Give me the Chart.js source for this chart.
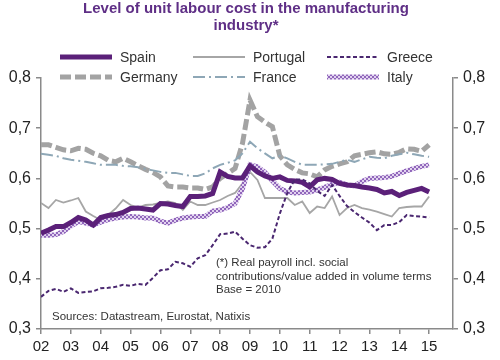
<!DOCTYPE html>
<html>
<head>
<meta charset="utf-8">
<script src="https://cdn.jsdelivr.net/npm/chart.js@4.4.1/dist/chart.umd.min.js"></script>
<style>
  html, body { margin: 0; padding: 0; background: #fff; }
  #wrap { width: 500px; height: 360px; }
</style>
</head>
<body>
<div id="wrap"><canvas id="myChart" width="500" height="360"></canvas></div>
<script>
// quarterly observations, 2002Q1 .. 2015Q1
const quarters = [
  2002, 2002.25, 2002.5, 2002.75, 2003, 2003.25, 2003.5, 2003.75,
  2004, 2004.25, 2004.5, 2004.75, 2005, 2005.25, 2005.5, 2005.75,
  2006, 2006.25, 2006.5, 2006.75, 2007, 2007.25, 2007.5, 2007.75,
  2008, 2008.25, 2008.5, 2008.75, 2009, 2009.25, 2009.5, 2009.75,
  2010, 2010.25, 2010.5, 2010.75, 2011, 2011.25, 2011.5, 2011.75,
  2012, 2012.25, 2012.5, 2012.75, 2013, 2013.25, 2013.5, 2013.75,
  2014, 2014.25, 2014.5, 2014.75, 2015
];

const spain = [
  0.491, 0.497, 0.504, 0.504, 0.512, 0.522, 0.517, 0.507,
  0.522, 0.526, 0.528, 0.532, 0.540, 0.541, 0.539, 0.537,
  0.550, 0.549, 0.546, 0.544, 0.564, 0.564, 0.565, 0.570,
  0.613, 0.604, 0.601, 0.601, 0.625, 0.613, 0.605, 0.600,
  0.603, 0.596, 0.595, 0.592, 0.583, 0.597, 0.600, 0.598,
  0.590, 0.587, 0.586, 0.583, 0.581, 0.578, 0.571, 0.574,
  0.566, 0.572, 0.576, 0.580, 0.573
];

const portugal = [
  0.551, 0.541, 0.557, 0.552, 0.556, 0.561, 0.534, 0.525,
  0.517, 0.527, 0.540, 0.557, 0.547, 0.542, 0.547, 0.548,
  0.551, 0.554, 0.551, 0.537, 0.554, 0.547, 0.547, 0.552,
  0.557, 0.565, 0.571, 0.590, 0.613, 0.597, 0.561, 0.561,
  0.561, 0.561, 0.547, 0.554, 0.531, 0.544, 0.541, 0.564,
  0.527, 0.541, 0.547, 0.541, 0.538, 0.534, 0.529, 0.524,
  0.541, 0.543, 0.544, 0.544, 0.564
];

const greece = [
  0.364, 0.376, 0.380, 0.374, 0.381, 0.372, 0.374, 0.375,
  0.381, 0.382, 0.384, 0.388, 0.386, 0.390, 0.388, 0.402,
  0.417, 0.419, 0.434, 0.431, 0.424, 0.441, 0.447, 0.467,
  0.489, 0.490, 0.494, 0.480, 0.467, 0.462, 0.463, 0.480,
  0.530, 0.571, 0.598, 0.598, 0.590, 0.575, 0.565, 0.587,
  0.565, 0.545, 0.533, 0.522, 0.512, 0.497, 0.507, 0.507,
  0.513, 0.527, 0.525, 0.524, 0.522
];

const germany = [
  0.667, 0.667, 0.662, 0.657, 0.655, 0.660, 0.658, 0.650,
  0.645, 0.636, 0.633, 0.640, 0.633, 0.625, 0.618, 0.612,
  0.603, 0.585, 0.583, 0.583, 0.581, 0.581, 0.578, 0.583,
  0.600, 0.610, 0.620, 0.670, 0.756, 0.723, 0.712, 0.703,
  0.645, 0.627, 0.618, 0.611, 0.609, 0.603, 0.617, 0.624,
  0.629, 0.633, 0.645, 0.648, 0.651, 0.653, 0.649, 0.648,
  0.652, 0.659, 0.658, 0.654, 0.667
];

const france = [
  0.649, 0.647, 0.645, 0.640, 0.637, 0.635, 0.633, 0.630,
  0.627, 0.627, 0.627, 0.625, 0.624, 0.622, 0.619, 0.616,
  0.613, 0.611, 0.611, 0.608, 0.605, 0.605, 0.610, 0.620,
  0.627, 0.631, 0.636, 0.650, 0.673, 0.660, 0.650, 0.640,
  0.645, 0.640, 0.633, 0.627, 0.627, 0.627, 0.628, 0.629,
  0.633, 0.637, 0.633, 0.638, 0.643, 0.641, 0.640, 0.645,
  0.648, 0.651, 0.648, 0.645, 0.643
];

const italy = [
  0.487, 0.487, 0.488, 0.494, 0.505, 0.514, 0.511, 0.507,
  0.513, 0.518, 0.521, 0.523, 0.524, 0.523, 0.521, 0.521,
  0.515, 0.511, 0.517, 0.521, 0.523, 0.524, 0.524, 0.535,
  0.537, 0.542, 0.550, 0.580, 0.627, 0.623, 0.612, 0.595,
  0.580, 0.573, 0.571, 0.572, 0.573, 0.577, 0.582, 0.588,
  0.592, 0.587, 0.585, 0.594, 0.600, 0.601, 0.602, 0.604,
  0.610, 0.615, 0.620, 0.624, 0.627
];

const tickYears = [2002, 2003, 2004, 2005, 2006, 2007, 2008, 2009, 2010, 2011, 2012, 2013, 2014, 2015];
const tickLabels = ['02', '03', '04', '05', '06', '07', '08', '09', '10', '11', '12', '13', '14', '15'];

const titleLines = ['Level of unit labour cost in the manufacturing', 'industry*'];
const noteLines = ['(*) Real payroll incl. social', 'contributions/value added in volume terms', 'Base = 2010'];
const sourceText = 'Sources: Datastream, Eurostat, Natixis';

const FONT = "'Liberation Sans', Arial, sans-serif";

function pts(values) {
  return values.map((v, i) => ({ x: quarters[i], y: v }));
}

// checkered pattern for the Italy line
const pc = document.createElement('canvas');
pc.width = 4; pc.height = 4;
const pctx = pc.getContext('2d');
pctx.fillStyle = '#e2d3ef';
pctx.fillRect(0, 0, 4, 4);
pctx.fillStyle = '#9066bb';
pctx.fillRect(0, 0, 2, 2);
pctx.fillRect(2, 2, 2, 2);
const italyPattern = pctx.createPattern(pc, 'repeat');

const datasets = [
  { label: 'Spain', data: pts(spain), borderColor: '#5b2079', borderWidth: 5, order: 1 },
  { label: 'Portugal', data: pts(portugal), borderColor: '#a6a6a6', borderWidth: 1.8, order: 3 },
  { label: 'Greece', data: pts(greece), borderColor: '#4a2770', borderWidth: 2, borderDash: [4, 2.5], order: 0 },
  { label: 'Germany', data: pts(germany), borderColor: '#a3a3a3', borderWidth: 5, borderDash: [11, 4], order: 5 },
  { label: 'France', data: pts(france), borderColor: '#8ea7b6', borderWidth: 2, borderDash: [12, 4, 2, 4], order: 4 },
  { label: 'Italy', data: pts(italy), borderColor: italyPattern, borderWidth: 5, order: 2 }
];

// title, 3-column legend and notes
const decorPlugin = {
  id: 'decor',
  afterDraw(chart) {
    const ctx = chart.ctx;
    ctx.save();
    ctx.textAlign = 'center';
    ctx.textBaseline = 'middle';
    ctx.fillStyle = '#5f2f86';
    ctx.font = 'bold 15px ' + FONT;
    ctx.fillText(titleLines[0], 246, 9);
    ctx.fillText(titleLines[1], 246, 26);

    const colX = [60, 193, 327];
    const rowY = [57, 77];
    ctx.textAlign = 'left';
    ctx.font = '14px ' + FONT;
    datasets.forEach((ds, i) => {
      const x0 = colX[i % 3], y = rowY[Math.floor(i / 3)];
      ctx.beginPath();
      ctx.setLineDash(ds.borderDash || []);
      ctx.lineWidth = ds.borderWidth;
      ctx.strokeStyle = ds.borderColor;
      ctx.moveTo(x0, y);
      ctx.lineTo(x0 + 52, y);
      ctx.stroke();
      ctx.setLineDash([]);
      ctx.fillStyle = '#333';
      ctx.fillText(ds.label, x0 + 60, y + 1);
    });

    ctx.font = '11.5px ' + FONT;
    ctx.fillStyle = '#333';
    noteLines.forEach((t, i) => ctx.fillText(t, 216, 263 + i * 13.5));
    ctx.fillText(sourceText, 52, 317);
    ctx.restore();
  }
};

const axisColor = '#8a8a8a';

function yAxis(position, width) {
  return {
    type: 'linear',
    position: position,
    min: 0.3,
    max: 0.8,
    ticks: {
      stepSize: 0.1,
      color: '#222',
      padding: 5,
      font: { family: FONT, size: 16 },
      callback: (v) => v.toFixed(1).replace('.', ',')
    },
    grid: { drawOnChartArea: false, color: axisColor, tickLength: 5, lineWidth: 1.5 },
    border: { color: axisColor, width: 1.5 },
    afterFit(scale) { scale.width = width; }
  };
}

const ctx = document.getElementById('myChart').getContext('2d');
const myChart = new Chart(ctx, {
  type: 'line',
  data: { datasets: datasets },
  options: {
    responsive: false,
    animation: false,
    devicePixelRatio: 1,
    layout: { padding: { top: 78, left: 0, right: 0, bottom: 0 } },
    elements: { point: { radius: 0 }, line: { tension: 0, borderCapStyle: 'butt' } },
    plugins: { legend: { display: false }, title: { display: false }, tooltip: { enabled: false } },
    scales: {
      x: {
        type: 'linear',
        min: 2002,
        max: 2015.8,
        afterBuildTicks(scale) {
          scale.ticks = tickYears.map((v) => ({ value: v }));
        },
        ticks: {
          color: '#222',
          padding: 4,
          autoSkip: false,
          maxRotation: 0,
          font: { family: FONT, size: 15 },
          callback: (v) => tickLabels[tickYears.indexOf(v)]
        },
        grid: { drawOnChartArea: false, color: axisColor, tickLength: 5, lineWidth: 1.5 },
        border: { color: axisColor, width: 1.5 },
        afterFit(scale) { scale.height = 31; }
      },
      y: yAxis('left', 41),
      y2: yAxis('right', 47)
    }
  },
  plugins: [decorPlugin]
});
</script>
</body>
</html>
